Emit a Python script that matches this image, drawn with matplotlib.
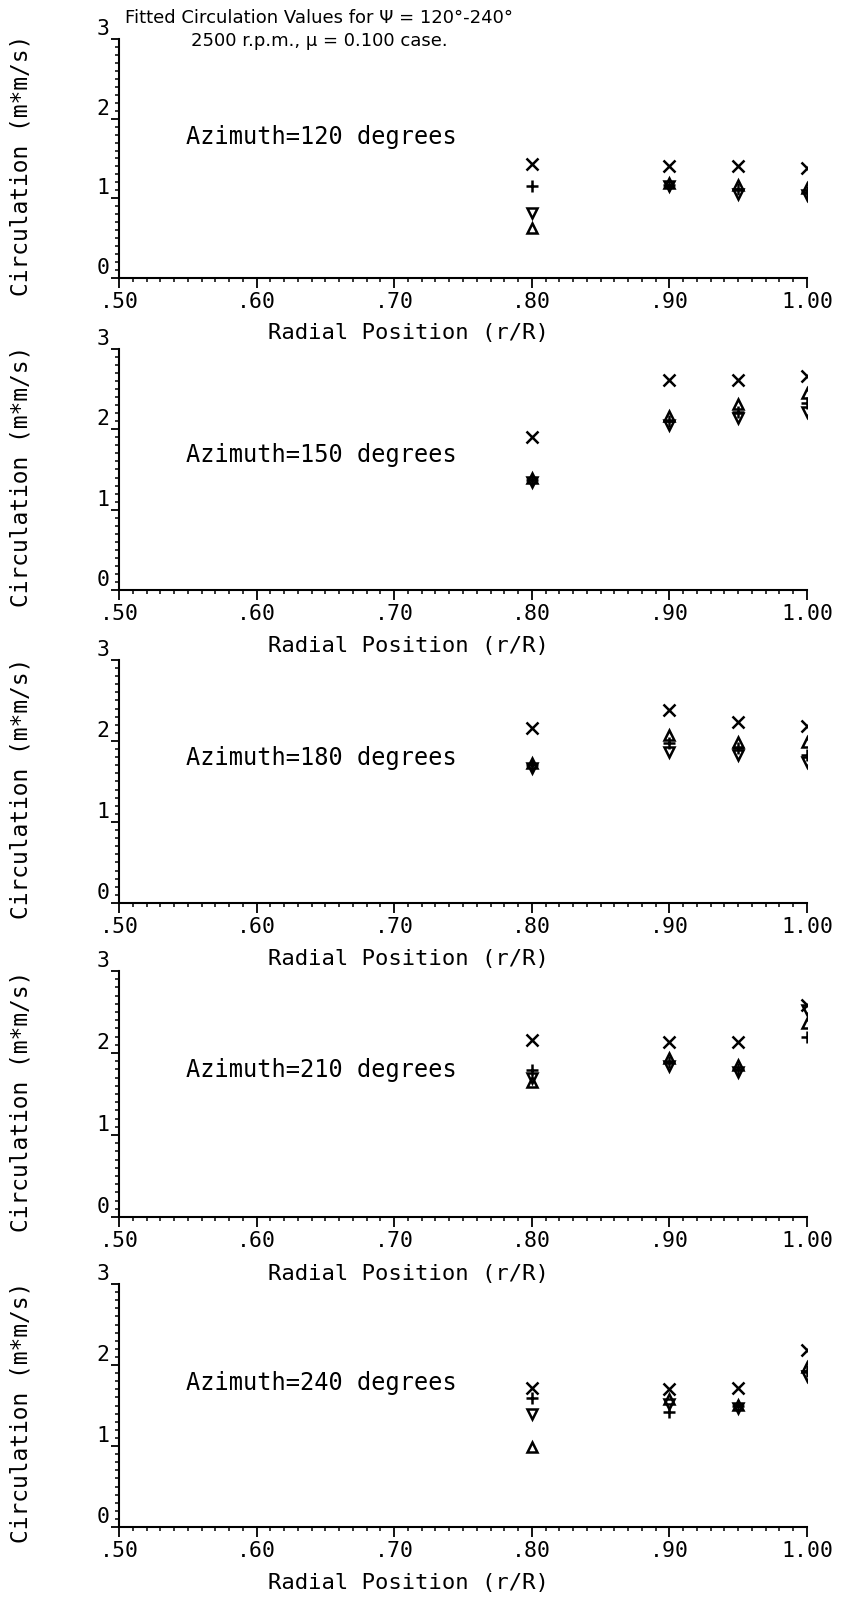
import matplotlib
matplotlib.use("Agg")
import matplotlib.pyplot as plt
import numpy as np

# radial stations
r_pos = [0.80, 0.90, 0.95, 1.00]
azimuths = [120, 150, 180, 210, 240]

# fitted circulation values, one list per azimuth
cross_vals = [[1.43, 1.40, 1.40, 1.38],
              [1.91, 2.62, 2.61, 2.66],
              [2.16, 2.38, 2.24, 2.19],
              [2.16, 2.14, 2.13, 2.58],
              [1.71, 1.70, 1.71, 2.19]]
plus_vals = [[1.15, 1.17, 1.12, 1.08],
             [1.37, 2.10, 2.22, 2.33],
             [1.70, 1.97, 1.91, 1.83],
             [1.79, 1.89, 1.81, 2.20],
             [1.59, 1.42, 1.49, 1.92]]
tri_up_vals = [[0.63, 1.19, 1.17, 1.13],
               [1.39, 2.16, 2.32, 2.45],
               [1.73, 2.07, 1.99, 1.99],
               [1.65, 1.94, 1.85, 2.36],
               [0.99, 1.58, 1.51, 1.98]]
tri_dn_vals = [[0.82, 1.15, 1.06, 1.04],
               [1.35, 2.05, 2.14, 2.22],
               [1.67, 1.87, 1.83, 1.74],
               [1.70, 1.84, 1.77, 2.53],
               [1.39, 1.52, 1.47, 1.86]]
text_y = [1.77, 1.68, 1.79, 1.79, 1.78]

mono = "DejaVu Sans Mono"

fig = plt.figure(figsize=(8.54, 16.01), dpi=100)

# panel placement in pixels (top, bottom) of each axes box
boxes = [(39, 278), (349, 590), (660, 903), (971, 1217), (1284, 1527)]
W, H = 854.0, 1601.0
left, right = 119, 807

for i, (top, bot) in enumerate(boxes):
    ax = fig.add_axes([left / W, 1 - bot / H, (right - left) / W, (bot - top) / H])
    ax.patch.set_alpha(0)
    ax.plot(r_pos, cross_vals[i], 'x', color='k', ms=9, mew=1.8, ls='none')
    ax.plot(r_pos, plus_vals[i], '+', color='k', ms=8, mew=1.8, ls='none')
    ax.plot(r_pos, tri_up_vals[i], '^', mfc='none', mec='k', ms=7, mew=1.8, ls='none')
    ax.plot(r_pos, tri_dn_vals[i], 'v', mfc='none', mec='k', ms=7, mew=1.8, ls='none')

    ax.set_xlim(0.5, 1.0)
    ax.set_ylim(0, 3)
    ax.spines['top'].set_visible(False)
    ax.spines['right'].set_visible(False)
    ax.spines['left'].set_linewidth(1.5)
    ax.spines['bottom'].set_linewidth(1.5)

    ax.set_xticks(np.arange(0.5, 1.001, 0.1))
    ax.set_xticklabels(['.50', '.60', '.70', '.80', '.90', '1.00'])
    ax.set_xticks(np.arange(0.5, 1.001, 0.01), minor=True)
    ax.set_yticks([0, 1, 2, 3])
    ax.set_yticklabels(['0', '1', '2', '3'])
    ax.set_yticks(np.arange(0, 3.001, 0.1), minor=True)
    ax.tick_params(axis='x', which='major', direction='out', length=7, width=1.3, pad=3)
    ax.tick_params(axis='x', which='minor', direction='out', length=3, width=1.1)
    ax.tick_params(axis='y', which='major', direction='out', length=6, width=1.3, pad=1)
    ax.tick_params(axis='y', which='minor', direction='out', length=3, width=1.1)
    for lab in ax.get_xticklabels() + ax.get_yticklabels():
        lab.set_fontfamily(mono)
        lab.set_fontsize(15.5)
    for lab in ax.get_yticklabels():
        lab.set_va('bottom')

    ax.set_ylabel('Circulation (m*m/s)', family=mono, fontsize=16.5)
    ax.yaxis.set_label_coords(-0.125, 0.47)
    ax.set_xlabel('Radial Position (r/R)', family=mono, fontsize=16)
    ax.xaxis.set_label_coords(0.42, -0.19)

    ax.text(0.549, text_y[i], 'Azimuth=%d degrees' % azimuths[i],
            family=mono, fontsize=17, va='center', ha='left')

fig.text(0.374, 0.9885, 'Fitted Circulation Values for \u03a8 = 120\u00b0-240\u00b0',
         family='DejaVu Sans', fontsize=13, ha='center', va='center')
fig.text(0.374, 0.9745, '2500 r.p.m., \u03bc = 0.100 case.',
         family='DejaVu Sans', fontsize=13, ha='center', va='center')

fig.savefig('out.png', dpi=100)
